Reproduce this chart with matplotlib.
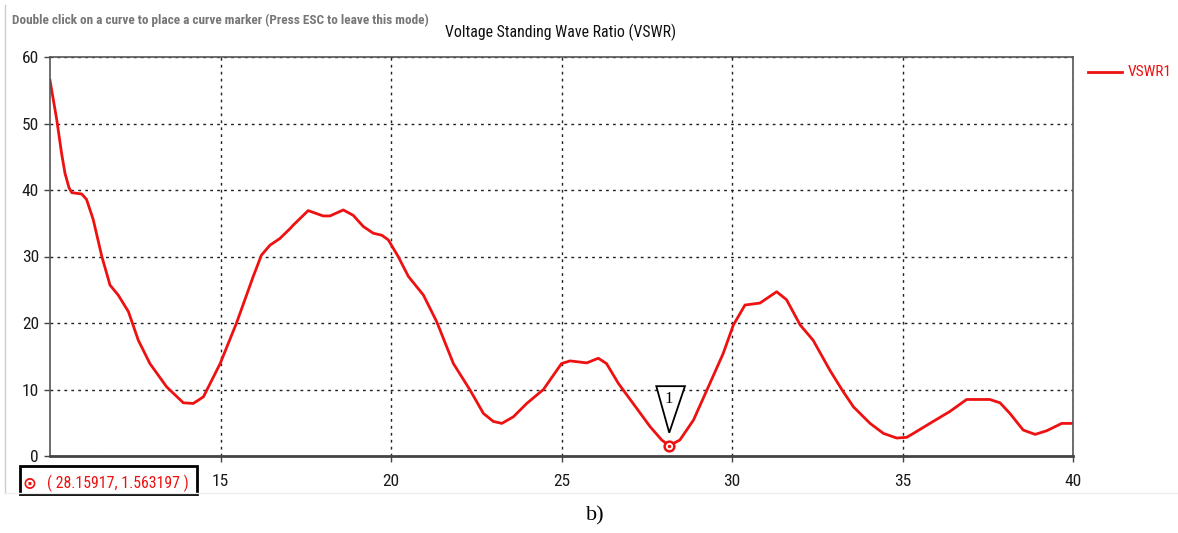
import numpy as np
import matplotlib.pyplot as plt
from matplotlib import font_manager
from matplotlib.patches import Rectangle, Polygon
from matplotlib.lines import Line2D

# values
freq = [10.0, 10.1, 10.2, 10.34, 10.44, 10.56, 10.64, 10.93, 11.07, 11.22, 11.27, 11.52,
        11.76, 12.0, 12.3, 12.59, 12.93, 13.42, 13.91, 14.2, 14.5, 14.99, 15.47, 15.96,
        16.2, 16.45, 16.74, 17.04, 17.13, 17.57, 18.01, 18.21, 18.6, 18.89, 19.19, 19.48,
        19.73, 19.92, 20.21, 20.51, 20.95, 21.34, 21.83, 22.32, 22.71, 23.0, 23.25, 23.59,
        23.98, 24.47, 25.0, 25.25, 25.74, 26.08, 26.32, 26.67, 27.1, 27.6, 27.94,
        28.16, 28.47, 28.87, 29.35, 29.74, 30.04, 30.38, 30.82, 31.31, 31.6, 32.0,
        32.38, 32.87, 33.22, 33.56, 34.05, 34.44, 34.83, 35.12, 35.32, 35.9, 36.39,
        36.88, 37.56, 37.86, 38.15, 38.54, 38.89, 39.23, 39.67, 40.0]
vswr = [56.5, 53.5, 50.5, 45.5, 42.5, 40.3, 39.6, 39.4, 38.6, 36.3, 35.5, 30.0,
        25.7, 24.2, 21.7, 17.4, 13.9, 10.4, 8.0, 7.9, 8.9, 13.9, 20.0, 27.0,
        30.2, 31.7, 32.7, 34.2, 34.7, 36.9, 36.1, 36.1, 37.0, 36.2, 34.5, 33.5,
        33.2, 32.5, 30.0, 27.0, 24.2, 20.2, 13.9, 9.9, 6.4, 5.2, 4.9, 5.9,
        7.9, 10.0, 13.9, 14.3, 14.0, 14.7, 13.9, 10.9, 7.9, 4.4, 2.4,
        1.563, 2.4, 5.4, 10.9, 15.4, 19.7, 22.7, 23.0, 24.7, 23.5, 19.7,
        17.4, 12.9, 10.0, 7.4, 4.9, 3.4, 2.7, 2.8, 3.4, 5.2, 6.7,
        8.5, 8.5, 8.0, 6.4, 3.9, 3.25, 3.8, 4.9, 4.9]

marker_x, marker_y = 28.15917, 1.563197
xticks = [15, 20, 25, 30, 35, 40]
yticks = [0, 10, 20, 30, 40, 50, 60]

# pick a narrow sans if there is one
names = {f.name for f in font_manager.fontManager.ttflist}
ui_font = 'DejaVu Sans'
for cand in ['DejaVu Sans Condensed', 'Liberation Sans Narrow', 'Roboto Condensed']:
    if cand in names:
        ui_font = cand
        break

fig = plt.figure(figsize=(11.78, 5.33), dpi=100)
ax = fig.add_axes([50/1178, 77/533, 1023/1178, 399/533])
H = 533


def fit(t, width_px):
    # shrink/grow a text so that it spans about width_px pixels
    r = fig.canvas.get_renderer()
    w = t.get_window_extent(r).width
    t.set_fontsize(t.get_fontsize() * width_px / w)


ax.plot(freq, vswr, color='#ee1111', linewidth=2, solid_joinstyle='round')
ax.plot([marker_x], [marker_y], 'o', mfc='white', mec='#ee1111', ms=7, mew=1.8)
ax.plot([marker_x], [marker_y], 'o', color='#ee1111', ms=1.5)

ax.set_xlim(10, 40)
ax.set_ylim(0, 60)
ax.set_xticks(xticks)
ax.set_yticks(yticks)
ax.tick_params(direction='out', length=4, width=1, colors='#444444', labelsize=12.5,
               labelcolor='#1a1a1a')
for lbl in ax.get_xticklabels() + ax.get_yticklabels():
    lbl.set_family(ui_font)
ax.tick_params(axis='x', pad=9)
ax.tick_params(axis='y', pad=4)
ax.grid(True, color='#222222', linestyle=(0, (2, 3)), linewidth=1)
for s in ax.spines.values():
    s.set_color('#555555')
    s.set_linewidth(1.2)
ax.spines['bottom'].set_linewidth(2)
ax.spines['bottom'].set_color('#444444')

# triangle marker label "1"
tri = Polygon([[27.78, 10.5], [28.62, 10.5], [28.16, 3.5]], closed=True,
              facecolor='white', edgecolor='black', linewidth=1.3, zorder=5)
ax.add_patch(tri)
ax.text(28.13, 8.6, '1', ha='center', va='center', fontsize=12,
        family='Liberation Serif', zorder=6)

# titles
title = fig.text(445/1178, 1 - 32/H, 'Voltage Standing Wave Ratio (VSWR)', ha='left',
                 va='center', fontsize=11, family=ui_font, color='#111111')
fit(title, 231)
hint = fig.text(12/1178, 1 - 20/H,
                'Double click on a curve to place a curve marker (Press ESC to leave this mode)',
                ha='left', va='center', fontsize=8, family=ui_font, color='#777777',
                fontweight='bold')
fit(hint, 416)

# legend
fig.add_artist(Line2D([1088/1178, 1122/1178], [1 - 72/H, 1 - 72/H],
                      color='#ee1111', linewidth=2, transform=fig.transFigure))
leg = fig.text(1128/1178, 1 - 72/H, 'VSWR1', ha='left', va='center', fontsize=11,
               family=ui_font, color='#ee1111')
fit(leg, 44)

# marker readout box
fig.add_artist(Rectangle((20/1178, 1 - 494/H), 177/1178, 28/H,
                         transform=fig.transFigure, facecolor='white',
                         edgecolor='black', linewidth=2))
fig.text(29/1178, 1 - 484/H, '⊙', ha='center', va='center', fontsize=12,
         color='#ee1111', fontweight='bold', family='DejaVu Sans')
rd = fig.text(47/1178, 1 - 483/H, '( %s, %s )' % (marker_x, marker_y), ha='left',
              va='center', fontsize=11, family=ui_font, color='#ee1111')
fit(rd, 143)

# screenshot frame
fig.add_artist(Line2D([5/1178, 5/1178], [1 - 493/H, 1 - 5/H],
                      color='#cccccc', linewidth=1, transform=fig.transFigure))
fig.add_artist(Line2D([5/1178, 1], [1 - 493/H, 1 - 493/H],
                      color='#eeeeee', linewidth=1, transform=fig.transFigure))

fig.text(595/1178, 1 - 516/H, 'b)', ha='center', va='center', fontsize=16,
         family='Liberation Serif')

fig.savefig('out.png', dpi=100)
